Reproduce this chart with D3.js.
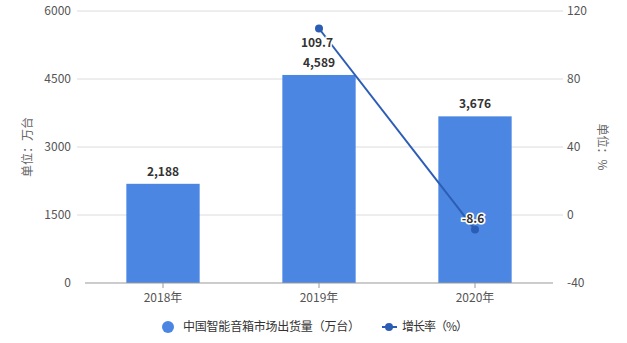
<!DOCTYPE html>
<html>
<head>
<meta charset="utf-8">
<script src="https://cdn.jsdelivr.net/npm/d3@7.9.0/dist/d3.min.js"></script>
<style>
  body { margin: 0; background: #fff; }
  svg { font-family: "Microsoft YaHei", "Noto Sans CJK SC", sans-serif; }
</style>
</head>
<body>
<svg id="chart" width="627" height="343"></svg>
<script>
const years = ['2018年', '2019年', '2020年'];
const shipments = [2188, 4589, 3676];
const growth = [null, 109.7, -8.6];
const leftTicks = [0, 1500, 3000, 4500, 6000];
const rightTicks = [-40, 0, 40, 80, 120];

const svg = d3.select('#chart');
const plotL = 85, plotR = 553, plotT = 11, plotB = 283;

const x = d3.scaleBand().domain(years).range([plotL, plotR]).paddingInner(0.53).paddingOuter(0.265);
const y = d3.scaleLinear().domain([0, 6000]).range([plotB, plotT]);
const y2 = d3.scaleLinear().domain([-40, 120]).range([plotB, plotT]);
const cx = d => x(d) + x.bandwidth() / 2;

// gridlines
svg.append('g').selectAll('line').data(leftTicks.slice(1)).join('line')
  .attr('x1', 77).attr('x2', 563)
  .attr('y1', d => y(d)).attr('y2', d => y(d))
  .attr('stroke', '#dcdcdc').attr('stroke-width', 1);

// left tick labels
svg.append('g').selectAll('text').data(leftTicks).join('text')
  .attr('x', 71).attr('y', d => y(d)).attr('dy', '0.35em')
  .attr('text-anchor', 'end').attr('font-size', 12).attr('fill', '#555')
  .text(d => d);

// right tick labels
svg.append('g').selectAll('text').data(rightTicks).join('text')
  .attr('x', 567).attr('y', d => y2(d)).attr('dy', '0.35em')
  .attr('text-anchor', 'start').attr('font-size', 12).attr('fill', '#555')
  .text(d => d);

// axis titles
svg.append('text').attr('transform', `translate(32,${(plotT + plotB) / 2}) rotate(-90)`)
  .attr('text-anchor', 'middle').attr('font-size', 12).attr('fill', '#666')
  .text('单位：万台');
svg.append('text').attr('transform', `translate(598,${(plotT + plotB) / 2}) rotate(90)`)
  .attr('text-anchor', 'middle').attr('font-size', 12).attr('fill', '#666')
  .text('单位：%');

// bars
svg.append('g').selectAll('rect').data(shipments).join('rect')
  .attr('x', (d, i) => x(years[i])).attr('width', x.bandwidth())
  .attr('y', d => y(d)).attr('height', d => y(0) - y(d))
  .attr('fill', '#4b87e2');

// bar labels
svg.append('g').selectAll('text').data(shipments).join('text')
  .attr('x', (d, i) => cx(years[i])).attr('y', d => y(d) - 8)
  .attr('text-anchor', 'middle').attr('font-size', 12).attr('font-weight', 'bold').attr('fill', '#333')
  .text(d => d3.format(',')(d));

// x axis
svg.append('line').attr('x1', plotL).attr('x2', plotR).attr('y1', plotB).attr('y2', plotB)
  .attr('stroke', '#999');
svg.append('g').selectAll('line').data(years).join('line')
  .attr('x1', cx).attr('x2', cx)
  .attr('y1', plotB).attr('y2', plotB + 5).attr('stroke', '#999');
svg.append('g').selectAll('text').data(years).join('text')
  .attr('x', cx).attr('y', plotB + 19)
  .attr('text-anchor', 'middle').attr('font-size', 12).attr('fill', '#555')
  .text(d => d);

// growth line
const pts = growth.map((g, i) => ({ year: years[i], g })).filter(d => d.g !== null);
const line = d3.line().x(d => cx(d.year)).y(d => y2(d.g));
svg.append('path').datum(pts).attr('d', line)
  .attr('fill', 'none').attr('stroke', '#2c5db5').attr('stroke-width', 2);
svg.append('g').selectAll('circle').data(pts).join('circle')
  .attr('cx', d => cx(d.year)).attr('cy', d => y2(d.g))
  .attr('r', 4).attr('fill', '#2c5db5');
svg.append('g').selectAll('text').data(pts).join('text')
  .attr('x', d => cx(d.year) - 2)
  .attr('y', d => y2(d.g) + (d.g > 100 ? 18 : -7))
  .attr('text-anchor', 'middle').attr('font-size', 12).attr('font-weight', 'bold')
  .attr('fill', '#333').attr('stroke', '#fff').attr('stroke-width', 3).attr('paint-order', 'stroke')
  .text(d => d.g);

// legend
const lg = svg.append('g').attr('font-size', 12).attr('fill', '#333');
lg.append('circle').attr('cx', 168).attr('cy', 327).attr('r', 6).attr('fill', '#4b87e2');
lg.append('text').attr('x', 183).attr('y', 327).attr('dy', '0.35em')
  .attr('textLength', 177).text('中国智能音箱市场出货量（万台）');
lg.append('line').attr('x1', 382).attr('x2', 397).attr('y1', 327).attr('y2', 327)
  .attr('stroke', '#2c5db5').attr('stroke-width', 2);
lg.append('circle').attr('cx', 389).attr('cy', 327).attr('r', 4).attr('fill', '#2c5db5');
lg.append('text').attr('x', 402).attr('y', 327).attr('dy', '0.35em')
  .attr('textLength', 66).text('增长率（%）');
</script>
</body>
</html>
